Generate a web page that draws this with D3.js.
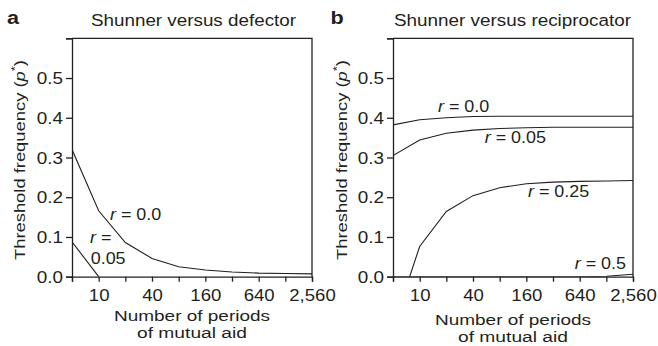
<!DOCTYPE html>
<html><head><meta charset="utf-8">
<script src="https://cdn.jsdelivr.net/npm/d3@7"></script>
<style>
body{margin:0;background:#fff;}
text{font-family:"Liberation Sans",Arial,Helvetica,sans-serif;fill:#231f20;}
</style></head>
<body><svg id="c" width="658" height="346"></svg>
<script>
const periods = [5,10,20,40,80,160,320,640,1280,2560];
const labeledTicks = [10,40,160,640,2560];
const yTicks = [0,0.1,0.2,0.3,0.4,0.5,0.6];
const yLabeled = [0,0.1,0.2,0.3,0.4,0.5];
const aR0 = [0.32,0.166,0.086,0.046,0.025,0.017,0.012,0.009,0.008,0.007];
const aR005 = [0.088,0.0];
const bR0 = [0.382,0.395,0.400,0.403,0.404,0.404,0.404,0.404,0.404,0.404];
const bR005 = [0.305,0.344,0.361,0.369,0.373,0.375,0.376,0.376,0.376,0.376];
const bR025 = [-0.126,0.076,0.164,0.204,0.224,0.234,0.238,0.240,0.241,0.242];
const bR05 = [0,0,0,0,0,0,0,0,0.001,0.006];

const svg = d3.select("#c");
svg.append("rect").attr("width",658).attr("height",346).attr("fill","#fff");
const ink = "#231f20";
const y = d3.scaleLinear().domain([0,0.6]).range([276.7,38.3]);

function stretch(sel, k){
  sel.each(function(){
    const n = this.getComputedTextLength();
    if(n>0){ d3.select(this).attr("textLength", n*k).attr("lengthAdjust","spacingAndGlyphs"); }
  });
}
function fitTo(sel, w){
  sel.attr("textLength", w).attr("lengthAdjust","spacingAndGlyphs");
}

function panel(x0, x1, letter, title, series, labels, opt){
  const x = d3.scaleLog().base(2).domain([5,2560]).range([x0,x1]);
  const g = svg.append("g");
  const clipId = "clip"+letter;
  svg.append("clipPath").attr("id",clipId).append("rect")
    .attr("x",x0).attr("y",y(0.6)).attr("width",x1-x0).attr("height",y(0)-y(0.6));
  g.append("path").attr("d",`M${x0},${y(0.6)}H${x1}V${y(0)}`).attr("fill","none").attr("stroke",ink).attr("stroke-width",1.3);
  const xa = d3.axisBottom(x).tickValues(periods).tickSize(5).tickPadding(4)
    .tickFormat(d => labeledTicks.includes(d) ? d3.format(",")(d) : "");
  const gx = g.append("g").attr("transform",`translate(0,${y(0)})`).call(xa);
  const ya = d3.axisLeft(y).tickValues(yTicks).tickSize(6).tickPadding(3)
    .tickFormat(d => yLabeled.includes(d) ? d3.format(".1f")(d) : "");
  const gy = g.append("g").attr("transform",`translate(${x0},0)`).call(ya);
  [gx,gy].forEach(a=>{
    a.select(".domain").attr("stroke",ink).attr("stroke-width",1.3);
    a.selectAll(".tick line").attr("stroke",ink).attr("stroke-width",1.3);
    a.selectAll(".tick text").attr("font-size",16).attr("fill",ink)
      .attr("font-family","Liberation Sans, Arial, sans-serif");
  });
  gx.selectAll(".tick text").attr("dy","0.95em");
  gy.selectAll(".tick text").attr("dy","0.36em");
  stretch(gx.selectAll(".tick text"),1.16);
  stretch(gy.selectAll(".tick text"),1.18);
  const line = d3.line().x((d,i)=>x(periods[i])).y(d=>y(d));
  series.forEach(s=>{
    g.append("path").attr("d",line(s)).attr("fill","none").attr("stroke",ink)
      .attr("stroke-width",1.1).attr("clip-path",`url(#${clipId})`);
  });
  labels.forEach(l=>{
    const t = g.append("text").attr("x",l.x).attr("y",l.y).attr("font-size",16);
    if(l.r){ t.append("tspan").attr("font-style","italic").text("r"); t.append("tspan").text(" = "+l.v); }
    else t.text(l.v);
    stretch(t,1.12);
  });
  const pl = svg.append("text").attr("x",opt.letterX).attr("y",24).attr("font-size",18).attr("font-weight","bold").text(letter);
  stretch(pl,1.2);
  const tt = svg.append("text").attr("x",opt.titleX).attr("y",26).attr("font-size",17.2).text(title);
  fitTo(tt, opt.titleW);
  const yt = svg.append("text").attr("transform",`translate(${opt.yTitleX},${opt.yTitleC}) rotate(-90)`)
    .attr("text-anchor","middle").attr("font-size",15.3);
  yt.append("tspan").text("Threshold frequency (");
  yt.append("tspan").attr("font-style","italic").text("p");
  yt.append("tspan").attr("dy",-6).attr("font-size",11).text("*");
  yt.append("tspan").attr("dy",6).text(")");
  fitTo(yt, 200);
  const xt1 = svg.append("text").attr("x",(x0+x1)/2).attr("y",opt.xTitleY).attr("text-anchor","middle").attr("font-size",15.5)
    .text("Number of periods");
  fitTo(xt1, 156);
  const xt2 = svg.append("text").attr("x",(x0+x1)/2).attr("y",opt.xTitleY+17.5).attr("text-anchor","middle").attr("font-size",15.5)
    .text("of mutual aid");
  fitTo(xt2, opt.x2W);
}

panel(72,312,"a","Shunner versus defector",[aR0,aR005],[
  {x:110,y:220,r:true,v:"0.0"},
  {x:90,y:242.7,r:true,v:""},
  {x:90.7,y:264,r:false,v:"0.05"}
],{letterX:7,titleX:91,titleW:205,yTitleX:24.5,yTitleC:160,xTitleY:320.5,x2W:110});
panel(393,633,"b","Shunner versus reciprocator",[bR0,bR005,bR025,bR05],[
  {x:438,y:111.7,r:true,v:"0.0"},
  {x:484.7,y:143.3,r:true,v:"0.05"},
  {x:528,y:196.7,r:true,v:"0.25"},
  {x:574.7,y:269.3,r:true,v:"0.5"}
],{letterX:330.5,titleX:394,titleW:237,yTitleX:346.5,yTitleC:160,xTitleY:324.5,x2W:110});
</script></body></html>
